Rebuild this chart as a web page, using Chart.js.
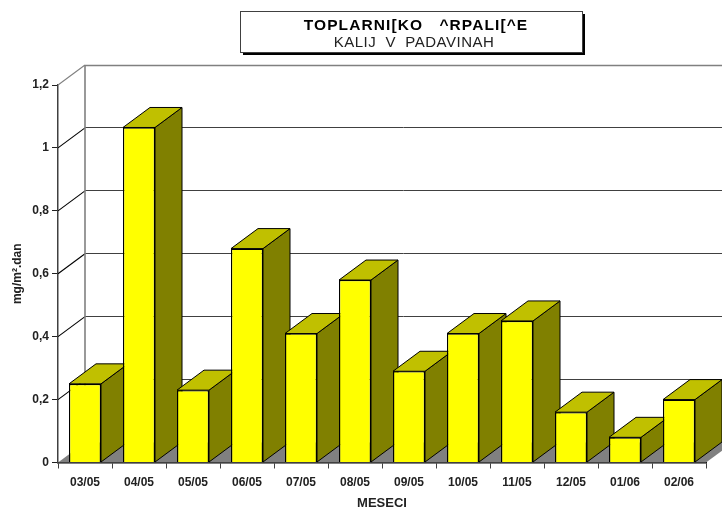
<!DOCTYPE html>
<html><head><meta charset="utf-8">
<style>html,body{margin:0;padding:0;background:#fff}canvas{display:block}</style>
<script src="https://cdn.jsdelivr.net/npm/chart.js@4"></script>
</head><body><canvas id="c" width="722" height="508"></canvas>
<script>
const categories = ['03/05','04/05','05/05','06/05','07/05','08/05','09/05','10/05','11/05','12/05','01/06','02/06'];
const values = [0.25,1.065,0.23,0.68,0.41,0.58,0.29,0.41,0.45,0.16,0.08,0.2];
const titleLine = 'TOPLARNI[KO ^RPALI[^E';
const subtitleLine = 'KALIJ V PADAVINAH';
const yAxisTitle = 'mg/m².dan';
const xAxisTitle = 'MESECI';
const FONT = '"Liberation Sans", Arial, sans-serif';
const DX = 27, DY = -20;

function poly(ctx, pts, fill, stroke, lw){
  ctx.beginPath();
  pts.forEach((p,i)=> i?ctx.lineTo(p[0],p[1]):ctx.moveTo(p[0],p[1]));
  ctx.closePath();
  if(fill){ctx.fillStyle=fill;ctx.fill();}
  if(stroke){ctx.strokeStyle=stroke;ctx.lineWidth=lw||1;ctx.stroke();}
}
function line(ctx,x1,y1,x2,y2,c,w){
  ctx.beginPath();ctx.moveTo(x1,y1);ctx.lineTo(x2,y2);ctx.strokeStyle=c;ctx.lineWidth=w;ctx.stroke();
}
const scene = {
  id:'scene',
  beforeDatasetsDraw(chart){
    const ctx=chart.ctx, a=chart.chartArea, y=chart.scales.y;
    ctx.save();
    const y0=y.getPixelForValue(0);
    poly(ctx,[[a.left,y0],[a.left+DX,y0+DY],[a.right+DX,y0+DY],[a.right,y0]],'#808080');
    y.ticks.forEach((t,i)=>{
      const py=y.getPixelForValue(t.value);
      if(t.value>0){
        const top=i===y.ticks.length-1;
        const gy=Math.floor(py+DY)+0.5;
        line(ctx,a.left+DX,gy,722,gy,top?'#808080':'#404040',top?1.6:1);
        line(ctx,a.left,py,a.left+DX,py+DY,top?'#808080':'#000',1.1);
      }
    });
    line(ctx,a.left+DX,y.getPixelForValue(1.2)+DY,a.left+DX,y0+DY,'#808080',1.6);
    const meta=chart.getDatasetMeta(0);
    meta.data.forEach(b=>{
      const l=b.x-b.width/2, r=b.x+b.width/2, t=b.y, bt=b.base;
      poly(ctx,[[r,t],[r+DX,t+DY],[r+DX,bt+DY],[r,bt]],'#808000','#000',1);
      poly(ctx,[[l,t],[l+DX,t+DY],[r+DX,t+DY],[r,t]],'#c0c000','#000',1);
    });
    ctx.restore();
  },
  afterDraw(chart){
    const ctx=chart.ctx;
    ctx.save();
    ctx.fillStyle='#000';ctx.fillRect(243,14,342,41);
    ctx.fillStyle='#fff';ctx.strokeStyle='#404040';ctx.lineWidth=1;
    ctx.fillRect(240.5,11.5,342,41);ctx.strokeRect(240.5,11.5,342,41);
    ctx.textAlign='center';ctx.textBaseline='alphabetic';ctx.fillStyle='#000';
    ctx.font='bold 15.5px '+FONT;ctx.letterSpacing='1.1px';ctx.fillText(titleLine.replace(/ /g,'   '),416,30);
    ctx.font='15px '+FONT;ctx.letterSpacing='0.5px';ctx.fillStyle='#222';ctx.fillText(subtitleLine.replace(/ /g,'  '),414,47);
    ctx.restore();
  }
};
new Chart(document.getElementById('c'),{
  type:'bar',
  data:{labels:categories,datasets:[{data:values,backgroundColor:'#ffff00',borderColor:'#000',borderWidth:1.3,barPercentage:1,categoryPercentage:32/54}]},
  plugins:[scene],
  options:{
    responsive:false,animation:false,
    devicePixelRatio:1,
    layout:{padding:{top:85,right:16,left:0,bottom:0}},
    plugins:{legend:{display:false},tooltip:{enabled:false}},
    scales:{
      x:{
        afterFit(s){s.height=45.5;},
        grid:{offset:true,drawOnChartArea:false,drawTicks:true,tickLength:6,color:'#404040',lineWidth:1},
        border:{display:true,color:'#000',width:1.5},
        ticks:{font:{family:FONT,size:12,weight:'bold'},color:'#222',padding:7,maxRotation:0,autoSkip:false},
        title:{display:true,text:xAxisTitle,font:{family:FONT,size:13,weight:'bold'},color:'#222',padding:{top:0,bottom:-3}}
      },
      y:{
        min:0,max:1.2,
        afterFit(s){s.width=58;},
        grid:{drawOnChartArea:false,drawTicks:true,tickLength:6,color:'#202020',lineWidth:1},
        border:{display:true,color:'#404040',width:1.5},
        ticks:{stepSize:0.2,font:{family:FONT,size:12,weight:'bold'},color:'#222',padding:3,
          callback:v=>String(Math.round(v*10)/10).replace('.',',')},
        title:{display:true,text:yAxisTitle,font:{family:FONT,size:12,weight:'bold'},color:'#222',padding:{top:10,bottom:0}}
      }
    }
  }
});
</script></body></html>
